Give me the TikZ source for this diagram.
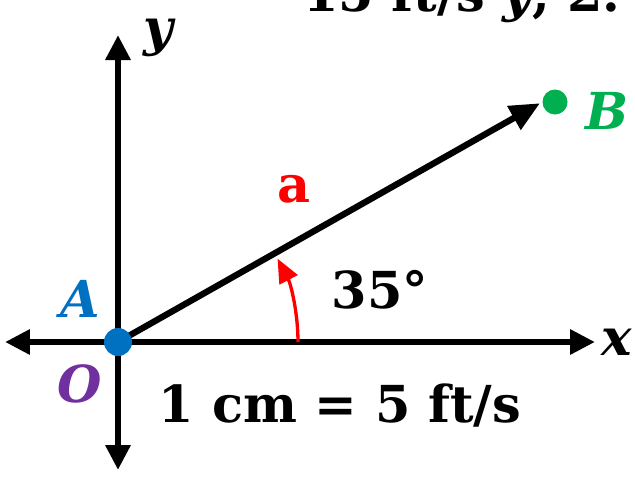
\documentclass[tikz,border=0pt]{standalone}
\usepackage{fontspec}
\setmainfont{DejaVu Serif}
\usetikzlibrary{arrows.meta}

\definecolor{ptblue}{HTML}{0070C0}
\definecolor{ptgreen}{HTML}{00B050}
\definecolor{ptpurple}{HTML}{7030A0}

\begin{document}
\begin{tikzpicture}[
			% Gaya untuk sumbu dan vektor
			axis/.style={
				-{Triangle[length=0.5cm, width=0.48cm]},
				line width=3.6pt,
				draw=black
			},
			vec/.style={
				-{Triangle[length=0.6cm, width=0.52cm]},
				line width=3.6pt,
				draw=black
			},
			anglearc/.style={
				-{Triangle[length=0.48cm, width=0.4cm]},
				line width=1.9pt,
				draw=red
			},
			% Gaya untuk teks
			lbl/.style={
				font=\fontsize{29}{34}\selectfont\bfseries,
				inner sep=0pt
			},
			dot/.style={
				circle,
				inner sep=0pt
			}
			]
			
			% Batas gambar
			\clip (-2.36,-2.76) rectangle (10.34,6.84);
			\useasboundingbox (-2.36,-2.76) rectangle (10.34,6.84);
			
			% Titik-titik utama
			\coordinate (left) at (-2.26,0);
			\coordinate (right) at (9.54,0);
			\coordinate (top) at (0,6.14);
			\coordinate (bottom) at (0,-2.56);
			\node[dot, fill=ptgreen, minimum size=0.5cm] (B) at (8.74,4.80) {};
			
			% Sumbu
			\draw[axis] (0,0) -- (right);
			\draw[axis] (0,0) -- (left);
			\draw[axis] (0,0) -- (top);
			\draw[axis] (0,0) -- (bottom);
			
			% Vektor a
			\node[dot, minimum size=0.56cm] (A) at (0,0) {};
			\draw[vec, shorten >=0.05cm] (A.center) -- (B.west);
			\node[dot, fill=ptblue, minimum size=0.56cm] at (A) {};
			
			% Busur sudut
			\draw[anglearc] (3.6,0) arc[start angle=0, end angle=27.6, radius=3.6];
			
			% Label
			\node[lbl, anchor=base] (toptext) at (6.88,6.62) {15 ft/s \textit{y}, 2.};
			\node[lbl] (ylbl) at (0.84,6.08) {\textit{y}};
			\node[lbl] (xlbl) at (9.98,0) {\textit{x}};
			\node[lbl, text=ptgreen] (Blbl) at (9.78,4.62) {\textit{B}};
			\node[lbl, text=red] (albl) at (3.52,3.06) {a};
			\node[lbl] (anglbl) at (5.24,1.04) {35°};
			\node[lbl, text=ptblue] (Albl) at (-0.76,0.86) {\textit{A}};
			\node[lbl, text=ptpurple] (Olbl) at (-0.76,-0.84) {\textit{O}};
			\node[lbl] (scale) at (4.44,-1.26) {1 cm = 5 ft/s};
			
		\end{tikzpicture}
\end{document}
